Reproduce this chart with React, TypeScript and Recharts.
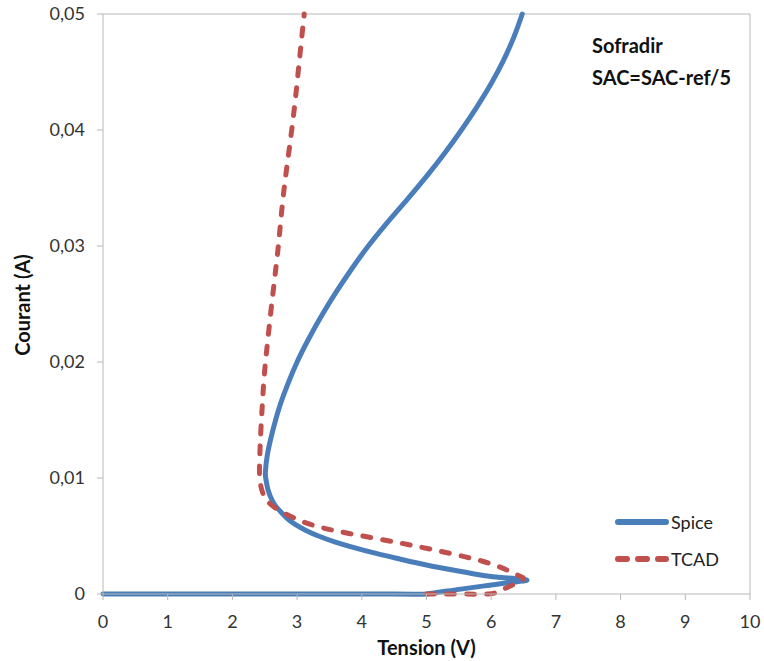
import { LineChart, Line, XAxis, YAxis, ReferenceLine } from 'recharts';

// Spice curve, walked in order: flat start, up to the tip, back and up
const spiceX = [0, 2.5, 4.5, 5.0, 5.5, 5.9, 6.3, 6.55, 6.2, 5.88, 5.47, 5.0, 4.6, 4.22, 3.88, 3.58, 3.33, 3.13, 2.97, 2.85, 2.76, 2.68, 2.62, 2.55, 2.515, 2.51, 2.54, 2.62, 2.72, 2.85, 3.0, 3.18, 3.38, 3.6, 3.84, 4.1, 4.39, 4.7, 5.0, 5.28, 5.54, 5.78, 6.0, 6.19, 6.35, 6.48];
const spiceY = [0, 0, 0, 0, 0.0004, 0.0007, 0.001, 0.0012, 0.0014, 0.0016, 0.002, 0.0025, 0.003, 0.0035, 0.004, 0.0045, 0.005, 0.0055, 0.006, 0.0065, 0.007, 0.0075, 0.008, 0.009, 0.01, 0.0105, 0.012, 0.014, 0.016, 0.018, 0.02, 0.022, 0.024, 0.026, 0.028, 0.03, 0.032, 0.034, 0.036, 0.038, 0.04, 0.042, 0.044, 0.046, 0.048, 0.05];

const tcadX = [5.0, 5.5, 5.95, 6.1, 6.22, 6.38, 6.5, 6.42, 6.27, 6.1, 5.88, 5.6, 5.2, 4.59, 3.82, 3.4, 3.1, 2.79, 2.53, 2.43, 2.42, 2.44, 2.47, 2.51, 2.62, 2.71, 2.78, 2.87, 2.96, 3.035, 3.11];
const tcadY = [0, 0, 0, 0.0002, 0.0005, 0.0009, 0.0013, 0.0016, 0.002, 0.0024, 0.0028, 0.0032, 0.0037, 0.0044, 0.0052, 0.0057, 0.0062, 0.007, 0.0081, 0.0096, 0.0113, 0.0141, 0.017, 0.0199, 0.0256, 0.03, 0.034, 0.038, 0.042, 0.046, 0.05];

const xTicks = [0, 1, 2, 3, 4, 5, 6, 7, 8, 9, 10];
const yTicks = [0, 0.01, 0.02, 0.03, 0.04, 0.05];

const spice = spiceX.map((x, i) => ({ x, y: spiceY[i] }));
const tcad = tcadX.map((x, i) => ({ x, y: tcadY[i] }));

const BLUE = '#4a7ebb';
const RED = '#c0504d';
const AXIS = '#b8b8b8';
const FONT = 'Lato, sans-serif';

const fmt = (v: number) => String(v).replace('.', ',');

function LegendRow({ label, color, dash }: { label: string; color: string; dash?: string }) {
  return (
    <div style={{ display: 'flex', alignItems: 'center', height: 37 }}>
      <svg width={58} height={10}>
        <line x1={5} y1={5} x2={53} y2={5} stroke={color} strokeWidth={6} strokeLinecap="round" strokeDasharray={dash} />
      </svg>
      <span style={{ fontSize: 18, color: '#222' }}>{label}</span>
    </div>
  );
}

export default function App() {
  return (
    <div style={{ position: 'absolute', left: 0, top: 0, width: 764, height: 661, background: '#fff', fontFamily: FONT }}>
      <LineChart width={764} height={661} margin={{ top: 14, right: 14, left: 0, bottom: 0 }}>
        <XAxis
          type="number"
          dataKey="x"
          domain={[0, 10]}
          ticks={xTicks}
          height={67}
          stroke={AXIS}
          tickSize={6}
          tickMargin={15}
          tick={{ fill: '#333', fontSize: 18, fontFamily: FONT }}
          label={() => (
            <text x={426.5} y={647} textAnchor="middle" dominantBaseline="central" fontFamily={FONT} fontWeight="bold" fontSize={20} fill="#111">
              Tension (V)
            </text>
          )}
        />
        <YAxis
          type="number"
          dataKey="y"
          domain={[0, 0.05]}
          ticks={yTicks}
          width={103}
          stroke={AXIS}
          tickSize={6}
          tickMargin={12}
          tickFormatter={fmt}
          tick={{ fill: '#333', fontSize: 18, fontFamily: FONT }}
          label={() => (
            <text x={22} y={305} transform="rotate(-90 22 305)" textAnchor="middle" dominantBaseline="central" fontFamily={FONT} fontWeight="bold" fontSize={20} fill="#111">
              Courant (A)
            </text>
          )}
        />
        <ReferenceLine y={0.05} stroke={AXIS} />
        <ReferenceLine x={10} stroke={AXIS} />
        <Line data={spice} dataKey="y" name="Spice" type="natural" stroke={BLUE} strokeWidth={5} strokeLinejoin="round" strokeLinecap="round" dot={false} activeDot={false} isAnimationActive={false} />
        <Line data={tcad} dataKey="y" name="TCAD" type="natural" stroke={RED} strokeWidth={5} strokeDasharray="8 12" strokeLinejoin="round" strokeLinecap="round" dot={false} activeDot={false} isAnimationActive={false} />
      </LineChart>
      <div style={{ position: 'absolute', left: 613, top: 503 }}>
        <LegendRow label="Spice" color={BLUE} />
        <LegendRow label="TCAD" color={RED} dash="9 11" />
      </div>
      <div style={{ position: 'absolute', left: 592, top: 29, fontSize: 20, fontWeight: 'bold', lineHeight: '32px', color: '#111', whiteSpace: 'nowrap' }}>
        <div>Sofradir</div>
        <div>SAC=SAC-ref/5</div>
      </div>
    </div>
  );
}
